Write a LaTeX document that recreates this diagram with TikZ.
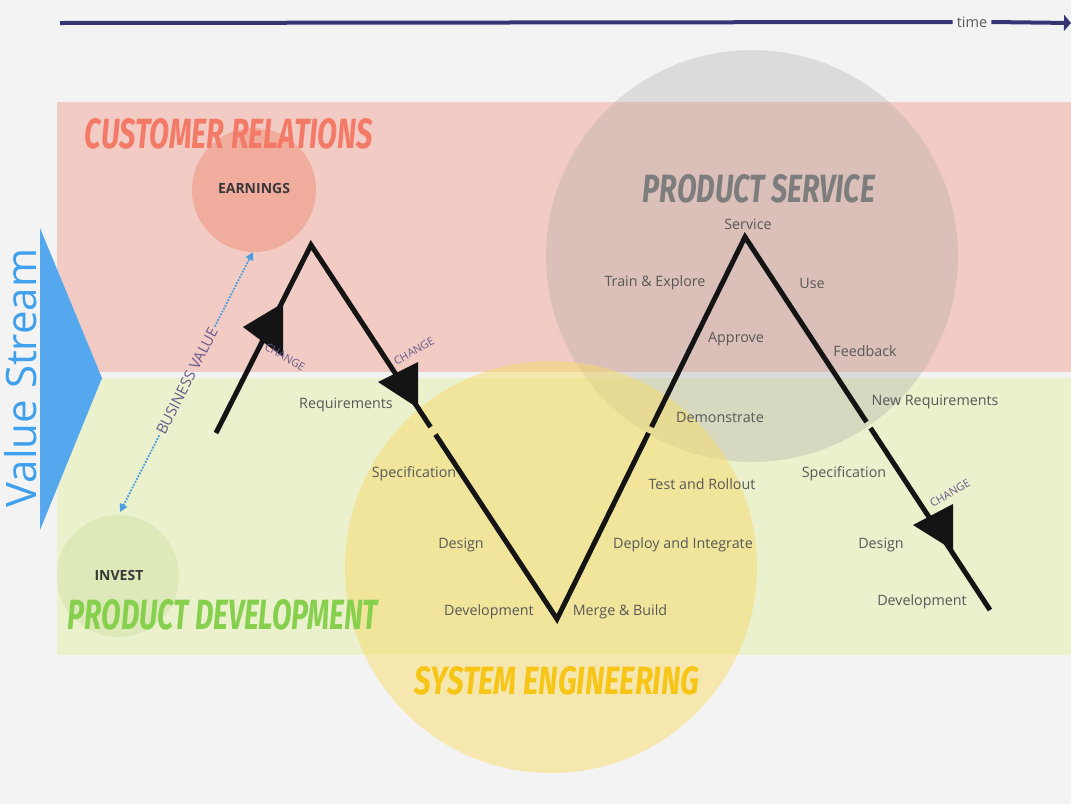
\documentclass[tikz,border=0pt]{standalone}
\usepackage{fontspec}
\setmainfont{Open Sans}
\newfontfamily\titlefont{Fira Sans}
\usetikzlibrary{arrows.meta}
\definecolor{bgc}{HTML}{F3F3F3}
\definecolor{redband}{HTML}{F2CCC4}
\definecolor{greenband}{HTML}{EBF0CD}
\definecolor{vsblue}{HTML}{56A8EE}
\definecolor{vstext}{HTML}{3FA0EE}
\definecolor{earnc}{HTML}{F0AC9C}
\definecolor{investc}{HTML}{DDE9B8}
\definecolor{psgray}{HTML}{A0A0A0}
\definecolor{seyellow}{HTML}{F7DC6A}
\definecolor{timec}{HTML}{363473}
\definecolor{labc}{HTML}{585858}
\definecolor{bvc}{HTML}{4A9EE0}
\definecolor{bvtext}{HTML}{6A5A8A}
\definecolor{crc}{HTML}{F47A68}
\definecolor{psc}{HTML}{7D7D7D}
\definecolor{pdc}{HTML}{86D04E}
\definecolor{sec}{HTML}{F6C516}
\begin{document}
\begin{tikzpicture}[x=1pt,y=-1pt,
  lab/.style={font=\fontsize{14.3}{16}\selectfont, text=labc, inner sep=0pt},
  chg/.style={font=\fontsize{11}{12}\selectfont, text=bvtext, inner sep=0pt},
  circ/.style={circle, inner sep=0pt, draw=none},
  zig/.style={line width=5pt, draw=black!92},
  bvline/.style={draw=bvc, line width=1.8pt, dash pattern=on 1.8pt off 1.4pt, -{Triangle[length=8pt,width=8pt]}},
  ttl/.style={inner sep=0pt},
  clab/.style={font=\bfseries\fontsize{14}{16}\selectfont, text=black!78, inner sep=0pt}
]
\useasboundingbox (0,0) rectangle (1071,804);
\fill[bgc] (0,0) rectangle (1071,804);
% bands
\fill[redband] (57,102) rectangle (1071,372);
\fill[greenband] (57,378) rectangle (1071,655);
% value stream triangle
\fill[vsblue] (40,228) -- (102,378) -- (40,530) -- cycle;
\node[rotate=90, text=vstext, font=\fontsize{42}{46}\selectfont, inner sep=0pt] (vs) at (21,378) {Value Stream};
% circles
\node[circ, minimum size=124pt, fill=earnc] (earn) at (254,190) {};
\node[circ, minimum size=122pt, fill=investc] (inv) at (118,576) {};
\node[circ, minimum size=412pt, fill=psgray, fill opacity=0.28] (psc) at (752,256) {};
\node[circ, minimum size=412pt, fill=seyellow, fill opacity=0.5] (sec) at (551,567) {};
% time line
\coordinate (t0) at (60,23);
\node[font=\fontsize{14.5}{16}\selectfont, text=labc, inner sep=0pt] (time) at (972,22) {time};
\coordinate (t1) at (1071,23);
\draw[timec, line width=4pt] (t0) -- ([xshift=-4pt]time.west);
\draw[timec, line width=4pt, -{Triangle[length=7pt,width=16pt]}] ([xshift=4pt]time.east) -- (t1);
% zigzag
\coordinate (z0) at (216,433);
\coordinate (z1) at (311,245);
\coordinate (z2) at (557,619);
\coordinate (z3) at (745,237);
\coordinate (z4) at (990,610);
\coordinate (g1a) at (430.5,427);
\coordinate (g1b) at (435.5,434.5);
\coordinate (g2a) at (648.5,433);
\coordinate (g2b) at (651.5,427);
\coordinate (g3a) at (866.5,422);
\coordinate (g3b) at (870.5,428);
\draw[zig] (z0) -- (z1) -- (g1a);
\draw[zig] (g1b) -- (z2) -- (g2a);
\draw[zig] (g2b) -- (z3) -- (g3a);
\draw[zig] (g3b) -- (z4);
% change arrows
\fill[black!92] (283,303) -- (243,327) -- (283,357) -- cycle;
\fill[black!92] (418,362) -- (378,382) -- (418,408) -- cycle;
\fill[black!92] (953,504) -- (913,525) -- (953,550) -- cycle;
\node[chg, rotate=-30] (c1) at (285,357) {CHANGE};
\node[chg, rotate=30] (c2) at (414,351) {CHANGE};
\node[chg, rotate=31] (c3) at (950,493) {CHANGE};
% business value
\coordinate (bvA) at (120,512);
\coordinate (bvB) at (253,252);
\node[rotate=63, font=\fontsize{15}{17}\selectfont, text=bvtext, inner sep=2pt] (bv) at (187,381) {BUSINESS VALUE};
\draw[bvline] (bv.west) -- (bvA);
\draw[bvline] (bv.east) -- (bvB);
% circle labels
\node[clab] (earnl) at (254,188) {EARNINGS};
\node[clab] (invl) at (119,575) {INVEST};
% step labels
\node[lab] (l1) at (346,405) {Requirements};
\node[lab] (l2) at (414,474) {Specification};
\node[lab] (l3) at (461,545) {Design};
\node[lab] (l4) at (489,612) {Development};
\node[lab] (l5) at (620,612) {Merge \& Build};
\node[lab] (l6) at (683,545) {Deploy and Integrate};
\node[lab] (l7) at (702,484) {Test and Rollout};
\node[lab] (l8) at (720,417) {Demonstrate};
\node[lab] (l9) at (736,339) {Approve};
\node[lab] (l10) at (655,283) {Train \& Explore};
\node[lab] (l11) at (748,224) {Service};
\node[lab] (l12) at (812,283) {Use};
\node[lab] (l13) at (865,351) {Feedback};
\node[lab] (l14) at (935,402) {New Requirements};
\node[lab] (l15) at (844,474) {Specification};
\node[lab] (l16) at (881,545) {Design};
\node[lab] (l17) at (922,602) {Development};
% titles
\node[ttl, text=crc] (tcr) at (229,134) {\resizebox{288pt}{30pt}{\titlefont\bfseries\itshape CUSTOMER RELATIONS}};
\node[ttl, text=psc] (tps) at (759,189) {\resizebox{232pt}{28pt}{\titlefont\bfseries\itshape PRODUCT SERVICE}};
\node[ttl, text=pdc] (tpd) at (223,615) {\resizebox{310pt}{30pt}{\titlefont\bfseries\itshape PRODUCT DEVELOPMENT}};
\node[ttl, text=sec] (tse) at (557,681) {\resizebox{285pt}{28pt}{\titlefont\bfseries\itshape SYSTEM ENGINEERING}};
\end{tikzpicture}
\end{document}
